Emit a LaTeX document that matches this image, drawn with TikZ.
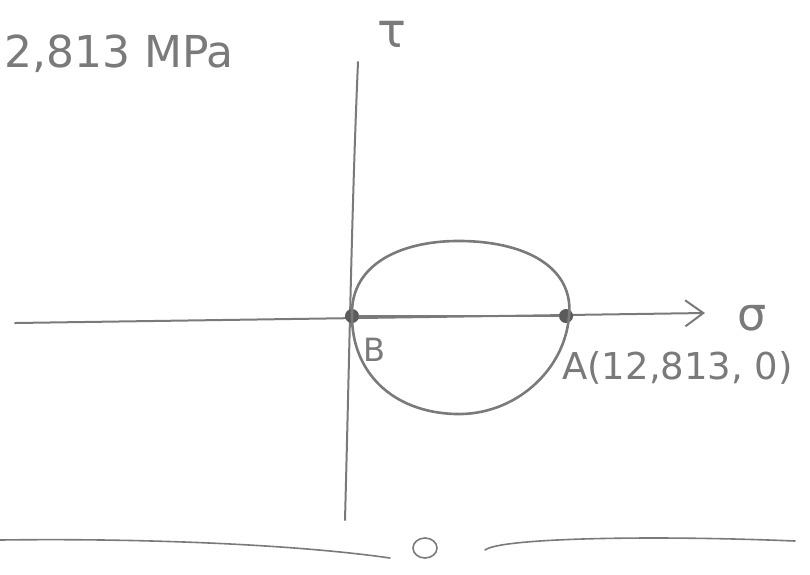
\documentclass[tikz,border=0pt]{standalone}
\usepackage{fontspec}
\setmainfont{DejaVu Sans}
\usetikzlibrary{arrows.meta,calc,positioning}
\definecolor{pencil}{HTML}{7A7A7A}
\tikzset{
  pen/.style={draw=pencil, line width=2.6pt, line cap=round, line join=round},
  axisline/.style={pen, line width=2pt},
  hand/.style={text=pencil, inner sep=0pt, anchor=center},
  dotmark/.style={circle, fill=pencil!75!black, inner sep=0pt, minimum size=14pt},
}
\begin{document}
\begin{tikzpicture}[x=1pt,y=-1pt]
\useasboundingbox (0,0) rectangle (810,574);
\fill[white] (0,0) rectangle (810,574);

% axes
\coordinate (tautop) at (358,62);
\coordinate (taubot) at (345,520);
\coordinate (sigleft) at (15,323);
\coordinate (sigright) at (705,313);
\draw[axisline] (tautop) .. controls (352,200) and (350,330) .. (taubot);
\draw[axisline, -{Straight Barb[length=18pt,width=26pt]}] (sigleft) -- (sigright);
\node[hand, font=\fontsize{48}{48}\selectfont] (tau) at (392,34) {τ};
\node[hand, font=\fontsize{46}{46}\selectfont] (sig) at (752,318) {σ};

% circle
\node[dotmark] (B) at (352,316) {};
\node[dotmark] (A) at (566,316) {};
\draw[pen] (352,316) .. controls (350,262) and (405,240) .. (462,241)
  .. controls (530,242) and (574,270) .. (569,316)
  .. controls (565,370) and (515,416) .. (455,414)
  .. controls (392,412) and (352,372) .. (352,316);
\draw[pen] (B) -- (A);

% labels
\node[hand, font=\fontsize{32}{32}\selectfont] (Blbl) at (374,350) {B};
\node[hand, font=\fontsize{37}{37}\selectfont, anchor=west] (Albl) at (562,368) {A(12,813, 0)};
\node[hand, font=\fontsize{44}{44}\selectfont, anchor=west] (val) at (4,54) {2,813 MPa};

% page rule
\coordinate (r1) at (0,540);
\coordinate (r2) at (390,558);
\coordinate (r3) at (485,550);
\coordinate (r4) at (795,541);
\draw[pen, line width=1.6pt] (r1) .. controls (150,538) and (300,545) .. (r2);
\draw[pen, line width=1.6pt] (r3) .. controls (500,538) and (650,535) .. (r4);
\draw[pen, line width=1.6pt] (425,548) ellipse (12pt and 10pt);
\end{tikzpicture}
\end{document}
